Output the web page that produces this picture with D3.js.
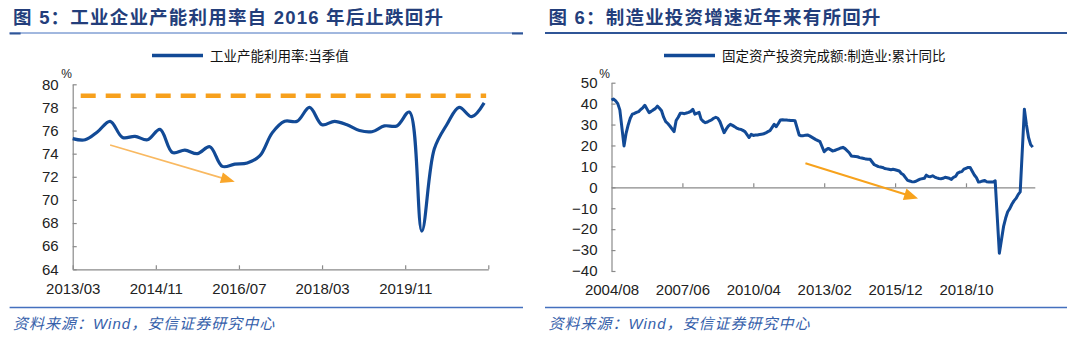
<!DOCTYPE html>
<html><head><meta charset="utf-8">
<script src="https://cdn.jsdelivr.net/npm/d3@7"></script>
<style>
html,body{margin:0;padding:0;background:#fff;}
svg{display:block;}
</style></head><body>
<svg id="c" width="1080" height="337"></svg>
<script>
// ---------------- Data: left chart (工业产能利用率:当季值, %) ----------------
const capDates = ["2013/03","2013/06","2013/09","2013/12","2014/03","2014/06","2014/09","2014/12",
  "2015/03","2015/06","2015/09","2015/12","2016/03","2016/06","2016/09","2016/12",
  "2017/03","2017/06","2017/09","2017/12","2018/03","2018/06","2018/09","2018/12",
  "2019/03","2019/06","2019/09","2019/12","2020/03","2020/06","2020/09","2020/12",
  "2021/03","2021/06"];
const capValues = [75.3,75.2,75.9,76.8,75.4,75.5,75.2,76.1,
  74.1,74.3,74.0,74.6,72.9,73.1,73.2,73.8,
  75.8,76.8,76.8,78.0,76.5,76.8,76.5,76.0,
  75.9,76.4,76.4,77.6,67.3,74.4,76.5,78.0,
  77.2,78.4];
const capBenchmark = 79;
const capXTicks = ["2013/03","2014/11","2016/07","2018/03","2019/11","2021/07"];
const capXLabels = ["2013/03","2014/11","2016/07","2018/03","2019/11",""];
const capYTicks = [64,66,68,70,72,74,76,78,80];
const capArrow = [["2013/12",74.75],["2016/06",71.57]];

// ---------------- Data: right chart (固定资产投资完成额:制造业:累计同比, %) ----------------
const fixDates = [
  "2004/08","2004/09","2004/10","2004/11","2004/12",
  "2005/02","2005/03","2005/04","2005/05","2005/06","2005/07","2005/08","2005/09","2005/10","2005/11","2005/12",
  "2006/02","2006/03","2006/04","2006/05","2006/06","2006/07","2006/08","2006/09","2006/10","2006/11","2006/12",
  "2007/02","2007/03","2007/04","2007/05","2007/06","2007/07","2007/08","2007/09","2007/10","2007/11","2007/12",
  "2008/02","2008/03","2008/04","2008/05","2008/06","2008/07","2008/08","2008/09","2008/10","2008/11","2008/12",
  "2009/02","2009/03","2009/04","2009/05","2009/06","2009/07","2009/08","2009/09","2009/10","2009/11","2009/12",
  "2010/02","2010/03","2010/04","2010/05","2010/06","2010/07","2010/08","2010/09","2010/10","2010/11","2010/12",
  "2011/02","2011/03","2011/04","2011/05","2011/06","2011/07","2011/08","2011/09","2011/10","2011/11","2011/12",
  "2012/02","2012/03","2012/04","2012/05","2012/06","2012/07","2012/08","2012/09","2012/10","2012/11","2012/12",
  "2013/02","2013/03","2013/04","2013/05","2013/06","2013/07","2013/08","2013/09","2013/10","2013/11","2013/12",
  "2014/02","2014/03","2014/04","2014/05","2014/06","2014/07","2014/08","2014/09","2014/10","2014/11","2014/12",
  "2015/02","2015/03","2015/04","2015/05","2015/06","2015/07","2015/08","2015/09","2015/10","2015/11","2015/12",
  "2016/02","2016/03","2016/04","2016/05","2016/06","2016/07","2016/08","2016/09","2016/10","2016/11","2016/12",
  "2017/02","2017/03","2017/04","2017/05","2017/06","2017/07","2017/08","2017/09","2017/10","2017/11","2017/12",
  "2018/02","2018/03","2018/04","2018/05","2018/06","2018/07","2018/08","2018/09","2018/10","2018/11","2018/12",
  "2019/02","2019/03","2019/04","2019/05","2019/06","2019/07","2019/08","2019/09","2019/10","2019/11","2019/12",
  "2020/02","2020/03","2020/04","2020/05","2020/06","2020/07","2020/08","2020/09","2020/10","2020/11","2020/12",
  "2021/02","2021/03","2021/04","2021/05","2021/06"];
const fixValues = [
  41.7,42.2,41.3,40.0,37.0,
  19.8,25.8,29.8,33.0,35.0,35.3,35.8,36.2,37.2,38.0,39.2,
  35.7,36.3,37.0,37.6,38.8,37.8,36.6,33.5,31.4,30.5,29.3,
  26.6,31.9,33.5,35.4,35.4,35.2,35.5,35.8,36.3,37.3,35.0,
  35.8,32.5,31.5,30.9,31.2,31.8,32.2,33.0,33.5,33.0,31.4,
  26.1,27.8,29.2,30.1,29.6,29.0,28.3,27.9,27.7,27.2,26.6,
  23.8,25.3,24.8,25.0,25.0,25.2,25.4,25.6,26.0,26.6,27.1,
  30.1,29.0,30.5,32.2,32.3,32.2,32.2,32.0,31.9,31.9,31.8,
  25.0,24.6,24.7,24.9,25.0,24.6,24.0,23.4,22.8,22.3,21.8,
  17.0,18.0,18.6,18.0,17.4,17.6,18.0,18.4,18.8,19.1,18.5,
  16.5,15.0,14.8,14.7,14.6,14.2,14.0,13.8,13.5,13.4,13.4,
  10.8,10.4,9.9,9.7,9.5,9.0,8.8,8.6,8.4,8.6,8.4,
  7.8,6.6,6.0,4.6,3.3,3.0,2.7,2.6,2.9,3.4,3.9,
  4.3,5.8,5.2,5.1,5.5,4.9,4.5,4.2,4.1,4.3,4.8,
  4.3,3.8,4.8,5.2,6.8,7.3,7.5,8.7,9.1,9.5,9.5,
  5.9,4.6,2.5,2.7,3.0,3.3,2.6,2.5,2.6,2.5,3.1,
  -31.5,-25.2,-18.8,-14.8,-11.7,-10.2,-8.1,-6.5,-5.3,-3.5,-2.2,
  37.3,29.8,23.8,20.4,19.2];
const fixXTicks = ["2004/08","2007/06","2010/04","2013/02","2015/12","2018/10"];
const fixYTicks = [-40,-30,-20,-10,0,10,20,30,40,50];
const fixArrow = [["2012/05",11.5],["2016/11",-5.3]];

// ---------------- Texts ----------------
const titles = ["图 5：工业企业产能利用率自 2016 年后止跌回升", "图 6：制造业投资增速近年来有所回升"];
const legends = ["工业产能利用率:当季值", "固定资产投资完成额:制造业:累计同比"];
const sourceText = "资料来源：Wind，安信证券研究中心";

// ---------------- Styles ----------------
const LINE = "#124A96", AXIS = "#8A8A8A", TITLE = "#233E7B", RULE = "#4470BE";
const FONT = "'Liberation Sans', Arial, 'Noto Sans CJK SC', sans-serif";
const CJK = "'Noto Sans CJK SC', 'Liberation Sans', sans-serif";

const mi = s => { const [y, m] = s.split("/").map(Number); return y * 12 + m - 1; };
const svg = d3.select("#c");

// ---------- headers, rules, source ----------
function panelFrame(x0, x1, title, legend, legX, thinRule) {
  svg.append("text").attr("x", x0 + 3.5).attr("y", 24)
    .attr("font-family", FONT).attr("font-weight", 700).attr("font-size", 18.5)
    .attr("letter-spacing", 1.2).attr("fill", TITLE).text(title);
  if (thinRule) {
    svg.append("line").attr("x1", x0).attr("x2", x1).attr("y1", 33).attr("y2", 33)
      .attr("stroke", RULE).attr("stroke-width", 1);
    [[x0, x0 + 11], [x1 - 11, x1]].forEach(([a, b]) =>
      svg.append("line").attr("x1", a).attr("x2", b).attr("y1", 33.5).attr("y2", 33.5)
        .attr("stroke", "#2F5597").attr("stroke-width", 2));
  } else {
    svg.append("line").attr("x1", x0).attr("x2", x1).attr("y1", 33).attr("y2", 33)
      .attr("stroke", "#2F5597").attr("stroke-width", 2);
  }
  svg.append("line").attr("x1", legX).attr("x2", legX + 51).attr("y1", 55.5).attr("y2", 55.5)
    .attr("stroke", LINE).attr("stroke-width", 3.5);
  svg.append("text").attr("x", legX + 58).attr("y", 61.3)
    .attr("font-family", CJK).attr("font-size", 13.5).attr("fill", "#111").text(legend);
  svg.append("line").attr("x1", x0).attr("x2", x1).attr("y1", 307.5).attr("y2", 307.5)
    .attr("stroke", RULE).attr("stroke-width", 1.5);
  svg.append("text").attr("x", x0 + 3.5).attr("y", 328.5)
    .attr("font-family", FONT).attr("font-size", 15).attr("font-style", "italic")
    .attr("letter-spacing", 1).attr("fill", "#3560AA").text(sourceText);
}
panelFrame(9.6, 523, titles[0], legends[0], 152, true);
panelFrame(545, 1067, titles[1], legends[1], 664, false);

function styleAxis(g) {
  g.selectAll(".domain").attr("stroke", AXIS).attr("stroke-width", 1.2);
  g.selectAll(".tick line").attr("stroke", AXIS).attr("stroke-width", 1.2);
  g.selectAll("text").attr("font-family", FONT).attr("font-size", 15).attr("fill", "#222");
}

function arrow(p0, p1, lineColor, headColor, lw, L, W) {
  const [x0, y0] = p0, [x1, y1] = p1;
  const dx = x1 - x0, dy = y1 - y0, len = Math.hypot(dx, dy), ux = dx / len, uy = dy / len;
  const bx = x1 - ux * L, by = y1 - uy * L;
  svg.append("line").attr("x1", x0).attr("y1", y0).attr("x2", bx + ux * 2).attr("y2", by + uy * 2)
    .attr("stroke", lineColor).attr("stroke-width", lw);
  svg.append("path").attr("d", `M${x1},${y1}L${bx - uy * W},${by + ux * W}L${bx + uy * W},${by - ux * W}Z`)
    .attr("fill", headColor);
}

// ---------- left chart ----------
{
  const x = d3.scaleLinear().domain([mi("2013/03"), mi("2021/07")]).range([72.7, 488.3]);
  const y = d3.scaleLinear().domain([64, 80]).range([269.3, 84.3]);

  const gy = svg.append("g").attr("transform", `translate(${x.range()[0]},0)`)
    .call(d3.axisLeft(y).tickValues(capYTicks).tickFormat(d3.format("d"))
      .tickSizeInner(-4).tickSizeOuter(0).tickPadding(14));
  styleAxis(gy);
  const gx = svg.append("g").attr("transform", `translate(0,${y.range()[0]})`)
    .call(d3.axisBottom(x).tickValues(capXTicks.map(mi)).tickFormat((d, i) => capXLabels[i])
      .tickSizeInner(-4).tickSizeOuter(0).tickPadding(14.5));
  styleAxis(gx);
  svg.append("text").attr("x", 72).attr("y", 78).attr("text-anchor", "end")
    .attr("font-family", FONT).attr("font-size", 12).attr("fill", "#222").text("%");

  svg.append("line")
    .attr("x1", x(mi(capDates[0]))).attr("x2", x(mi(capDates[capDates.length - 1])) + 2)
    .attr("y1", y(capBenchmark)).attr("y2", y(capBenchmark))
    .attr("stroke", "#F7A01C").attr("stroke-width", 4.5).attr("stroke-dasharray", "15,10")
    .attr("stroke-dashoffset", -8);

  const line = d3.line().x(d => x(mi(d[0]))).y(d => y(d[1])).curve(d3.curveCatmullRom.alpha(0.5));
  svg.append("path").datum(d3.zip(capDates, capValues)).attr("d", line)
    .attr("fill", "none").attr("stroke", LINE).attr("stroke-width", 3.2).attr("stroke-linejoin", "round");

  arrow([x(mi(capArrow[0][0])), y(capArrow[0][1])], [x(mi(capArrow[1][0])), y(capArrow[1][1])],
    "#F9B961", "#F9A62A", 1.6, 14, 5.5);
}

// ---------- right chart ----------
{
  const x = d3.scaleLinear().domain([mi("2004/08"), mi("2021/07")]).range([611.5, 1034.8]);
  const y = d3.scaleLinear().domain([-40, 50]).range([271, 82.7]);

  const gy = svg.append("g").attr("transform", `translate(${x.range()[0]},0)`)
    .call(d3.axisLeft(y).tickValues(fixYTicks).tickFormat(d3.format("d"))
      .tickSizeInner(-4).tickSizeOuter(0).tickPadding(14));
  styleAxis(gy);
  const gx = svg.append("g").attr("transform", `translate(0,${y(0)})`)
    .call(d3.axisBottom(x).tickValues(fixXTicks.map(mi).slice(1)).tickFormat("")
      .tickSizeInner(-4).tickSizeOuter(0));
  styleAxis(gx);
  const gl = svg.append("g").attr("transform", `translate(0,${y.range()[0]})`)
    .call(d3.axisBottom(x).tickValues(fixXTicks.map(mi)).tickFormat((d, i) => fixXTicks[i])
      .tickSize(0).tickPadding(13));
  gl.select(".domain").remove();
  styleAxis(gl);
  svg.append("text").attr("x", 610).attr("y", 78).attr("text-anchor", "end")
    .attr("font-family", FONT).attr("font-size", 12).attr("fill", "#222").text("%");

  const line = d3.line().x(d => x(mi(d[0]))).y(d => y(d[1]));
  svg.append("path").datum(d3.zip(fixDates, fixValues)).attr("d", line)
    .attr("fill", "none").attr("stroke", LINE).attr("stroke-width", 3).attr("stroke-linejoin", "round");

  arrow([x(mi(fixArrow[0][0])), y(fixArrow[0][1])], [x(mi(fixArrow[1][0])), y(fixArrow[1][1])],
    "#F7A21C", "#F7A21C", 2, 14, 6);
}
</script>
</body></html>
